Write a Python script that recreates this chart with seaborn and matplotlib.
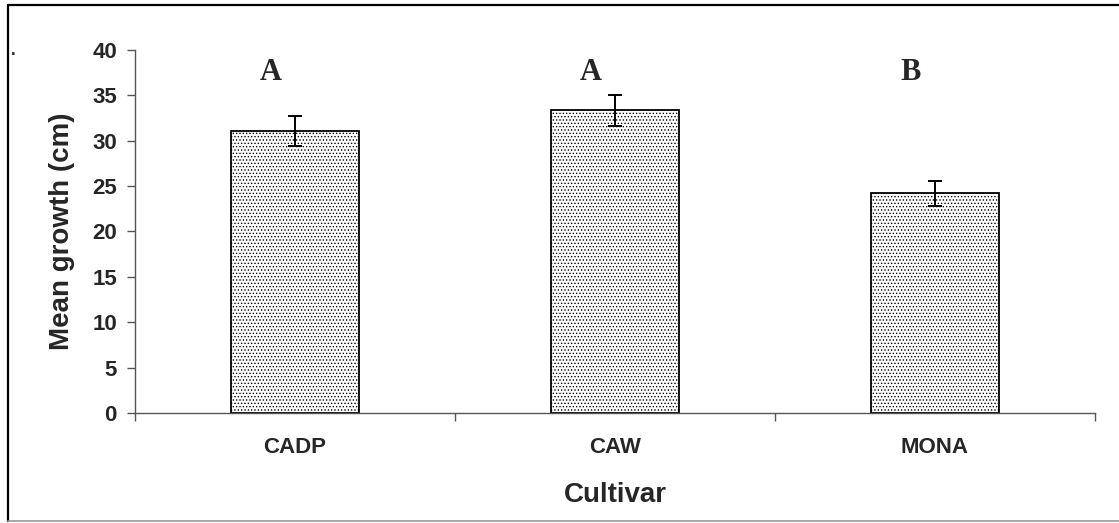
import pandas as pd
import matplotlib
matplotlib.use("Agg")
import matplotlib.pyplot as plt
import seaborn as sns
from matplotlib.lines import Line2D

# values
cultivars = ["CADP", "CAW", "MONA"]
mean_growth = [31.1, 33.35, 24.2]
std_err = [1.65, 1.7, 1.4]
letters = ["A", "A", "B"]
y_ticks = [0, 5, 10, 15, 20, 25, 30, 35, 40]


def DrawChart(df):
    sns.set_style("white")
    plt.rcParams["font.family"] = ["Liberation Sans", "DejaVu Sans"]
    plt.rcParams["hatch.linewidth"] = 0.6

    fig = plt.figure(figsize=(11.19, 5.23), dpi=100)
    ax = fig.add_axes([135 / 1119, 1 - 413 / 523, 960 / 1119, 363 / 523])

    sns.barplot(data=df, x="Cultivar", y="Growth", ax=ax, errorbar=None,
                color="white", edgecolor="black", linewidth=1.3, width=0.4,
                hatch=".....")

    ax.errorbar(range(len(cultivars)), df["Growth"], yerr=df["SE"],
                fmt="none", ecolor="black", elinewidth=1.4, capsize=5, capthick=1.4)

    for i, txt in enumerate(letters):
        ax.text(i - 0.075, 37.5, txt, ha="center", va="center", fontsize=22,
                fontweight="bold", family="Liberation Serif")

    ax.set_ylim(0, 40)
    ax.set_xlim(-0.5, 2.5)
    ax.set_yticks(y_ticks)
    ax.set_xticks([-0.5, 0.5, 1.5, 2.5], minor=True)

    for side in ["top", "right"]:
        ax.spines[side].set_visible(False)
    for side in ["left", "bottom"]:
        ax.spines[side].set_color("#555555")
        ax.spines[side].set_linewidth(1.0)

    ax.tick_params(axis="y", which="major", length=6, width=1.0, color="#555555",
                   direction="out", left=True, pad=7, labelsize=16)
    ax.tick_params(axis="x", which="major", length=0, pad=17, labelsize=16)
    ax.tick_params(axis="x", which="minor", length=6, width=1.0, color="#555555",
                   direction="out", bottom=True)
    for lbl in ax.get_xticklabels() + ax.get_yticklabels():
        lbl.set_fontweight("bold")

    ax.set_xlabel("Cultivar", fontsize=20, fontweight="bold")
    ax.set_ylabel("Mean growth (cm)", fontsize=20, fontweight="bold")
    ax.xaxis.set_label_coords(0.5, -0.19)
    ax.yaxis.set_label_coords(-0.062, 0.5)

    # outer frame of the original figure
    fig.add_artist(Line2D([8 / 1119, 1.01], [1 - 5 / 523, 1 - 5 / 523],
                          transform=fig.transFigure, color="black", lw=1.6))
    fig.add_artist(Line2D([8 / 1119, 8 / 1119], [1 - 5 / 523, 1 - 521 / 523],
                          transform=fig.transFigure, color="black", lw=1.6))
    fig.add_artist(Line2D([8 / 1119, 1.01], [1 - 521 / 523, 1 - 521 / 523],
                          transform=fig.transFigure, color="#999999", lw=1.2))
    fig.text(11 / 1119, 1 - 55 / 523, ".", fontsize=12, fontweight="bold")

    fig.savefig("out.png", dpi=100)


def main():
    df = pd.DataFrame({"Cultivar": cultivars, "Growth": mean_growth, "SE": std_err})
    DrawChart(df)


if __name__ == "__main__":
    main()
